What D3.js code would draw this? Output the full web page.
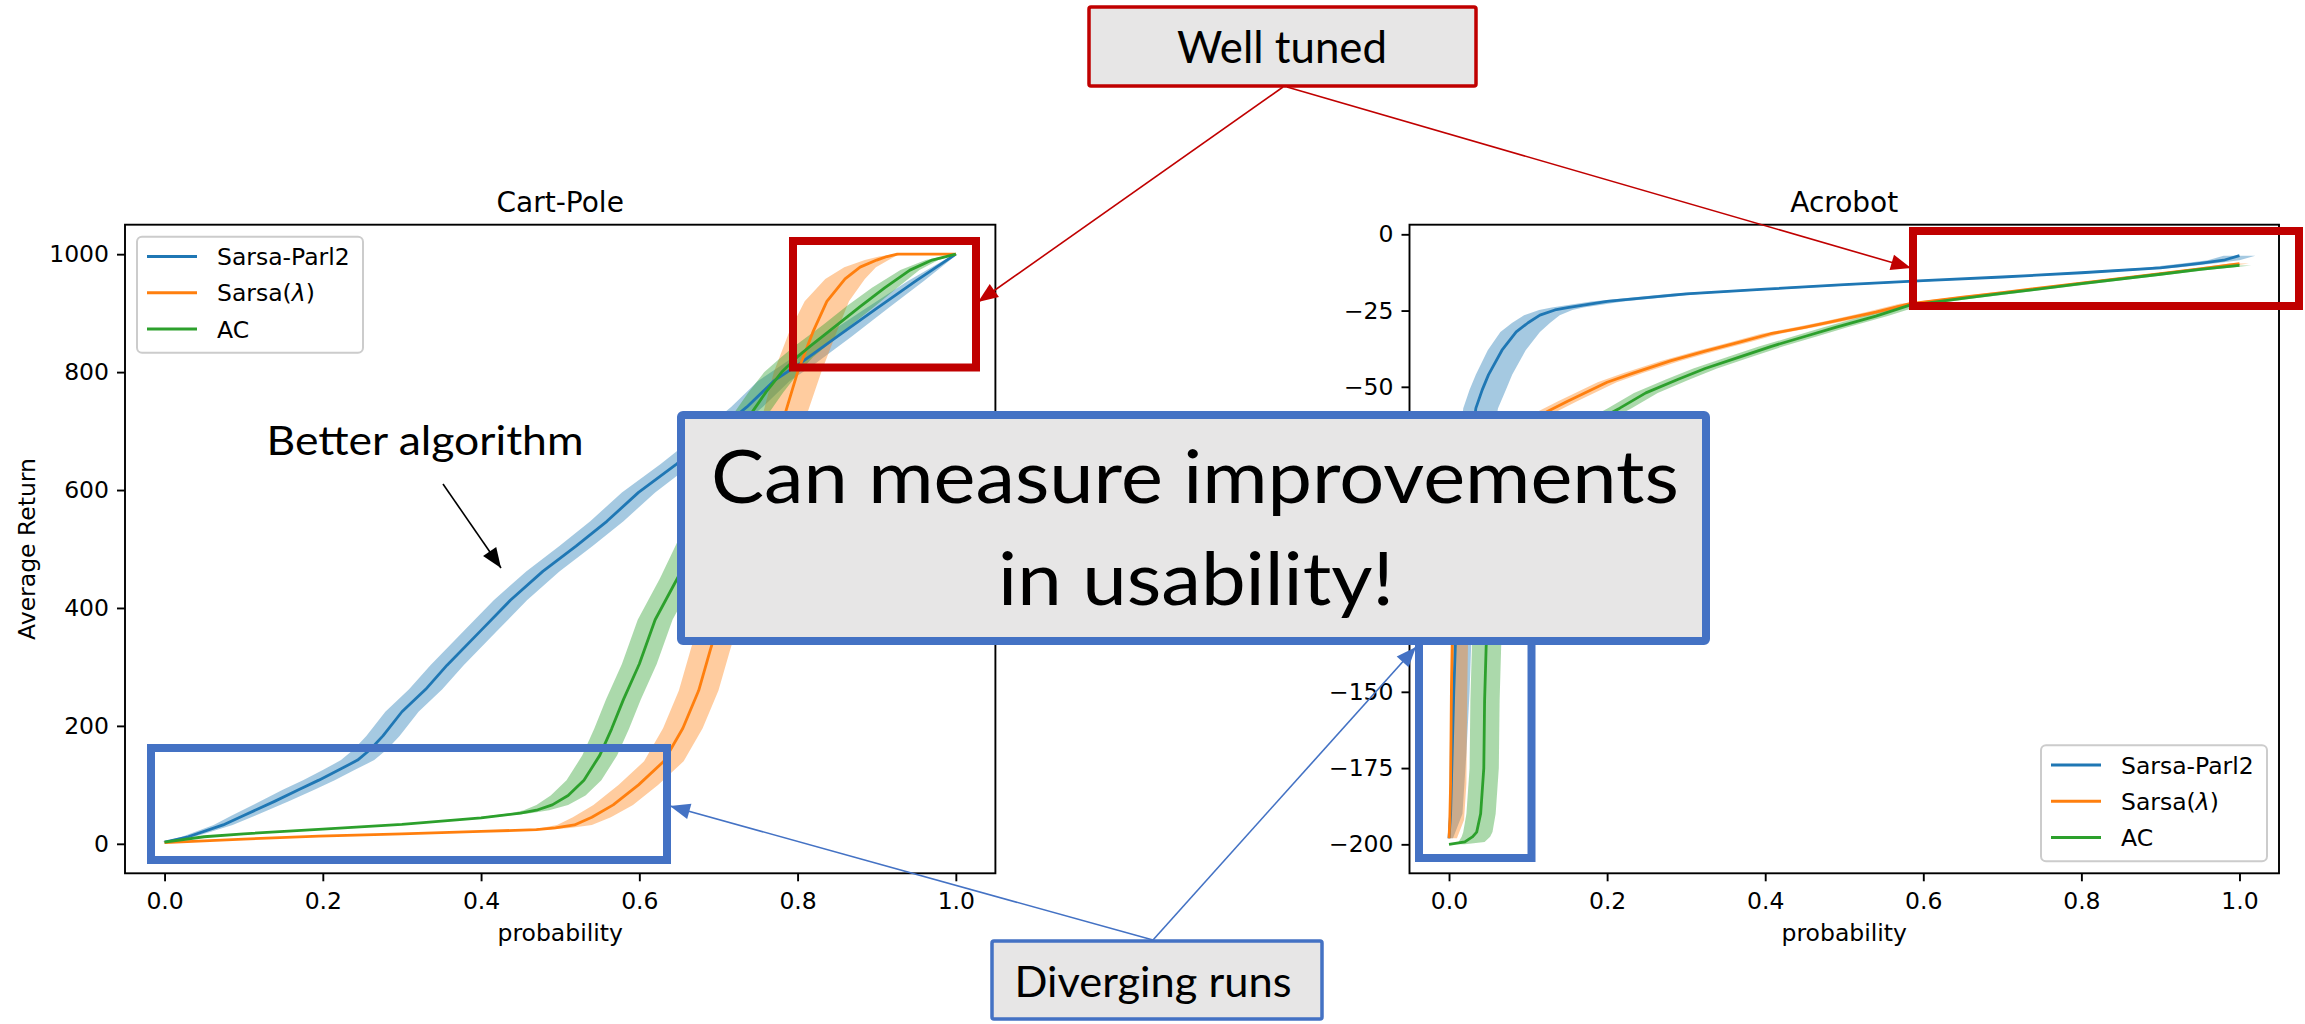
<!DOCTYPE html>
<html><head><meta charset="utf-8">
<script src="https://cdn.jsdelivr.net/npm/d3@7"></script>
<style>html,body{margin:0;padding:0;background:#fff}svg{display:block}</style>
</head><body>
<svg id="c" width="2305" height="1024"></svg>
<script>
// ---------------- DATA ----------------
const seriesNames = ["Sarsa-Parl2", "Sarsa(λ)", "AC"];
const panelTitles = ["Cart-Pole", "Acrobot"];
const xTicks = [0, 0.2, 0.4, 0.6, 0.8, 1.0];
const cartYTicks = [0, 200, 400, 600, 800, 1000];
const acroYTicks = [0, -25, -50, -75, -100, -125, -150, -175, -200];
// labels of -75, -100, -125 sit under the slide's main box and are not visible in the picture
const acroYTickLabels = ["0", "−25", "−50", "", "", "", "−150", "−175", "−200"];

// Cart-Pole: probability, average return, band half-widths (in probability)
const cartP_parl2 = [0,0.03,0.074,0.1,0.139,0.17,0.195,0.22,0.244,0.26,0.276,0.3,0.33,0.357,0.4,0.437,0.478,0.52,0.559,0.599,0.647,0.69,0.736,0.77,0.8,0.85,0.9,0.95,1.0];
const cartV_parl2 = [3,12,32,48,72,92,108,125,142,160,183,224,262,303,362,413,462,505,547,596,644,690,741,785,812,860,908,955,1000];
const cartW_parl2 = [0.003,0.008,0.012,0.015,0.018,0.02,0.02,0.02,0.021,0.021,0.021,0.021,0.021,0.021,0.021,0.021,0.021,0.021,0.021,0.021,0.02,0.02,0.02,0.02,0.02,0.018,0.014,0.01,0.002];

const cartP_lambda = [0,0.05,0.1,0.195,0.3,0.4,0.47,0.494,0.518,0.54,0.567,0.599,0.631,0.655,0.675,0.69,0.72,0.75,0.785,0.8,0.82,0.837,0.86,0.879,0.9,0.913,0.926,1.0];
const cartV_lambda = [2,5,8,13,17,21,24,27,32,45,66,100,140,196,260,330,460,590,733,800,870,920,958,978,990,996,1000,1000];
const cartW_lambda = [0.002,0.003,0.004,0.005,0.006,0.008,0.012,0.018,0.022,0.024,0.025,0.025,0.025,0.025,0.025,0.025,0.025,0.025,0.028,0.03,0.03,0.028,0.025,0.02,0.015,0.01,0.005,0.002];

const cartP_ac = [0,0.05,0.1,0.2,0.3,0.4,0.45,0.47,0.49,0.51,0.53,0.55,0.565,0.58,0.6,0.62,0.648,0.68,0.71,0.743,0.76,0.78,0.8,0.816,0.85,0.879,0.91,0.942,0.97,1.0];
const cartV_ac = [3,12,17,25,33,44,52,57,66,82,108,150,195,245,305,380,450,540,640,733,766,800,826,844,880,911,943,973,990,1000];
const cartW_ac = [0.002,0.003,0.004,0.005,0.006,0.008,0.012,0.016,0.02,0.022,0.022,0.022,0.022,0.022,0.022,0.022,0.022,0.022,0.022,0.022,0.022,0.022,0.02,0.02,0.018,0.018,0.016,0.012,0.008,0.002];

// Acrobot
const acroP_parl2 = [0,0.002,0.004,0.006,0.008,0.01,0.015,0.022,0.034,0.042,0.05,0.067,0.085,0.1,0.115,0.134,0.15,0.2,0.3,0.4,0.5,0.6,0.7,0.8,0.9,0.95,0.98,1.0];
const acroV_parl2 = [-198,-190,-170,-150,-135,-125,-100,-78,-57,-51,-46,-38,-32,-29,-26.5,-24.8,-24,-22,-19.5,-18,-16.5,-15.2,-14,-12.6,-11,-9.5,-8.5,-7];
const acroLo_parl2 = [0.001,0.002,0.003,0.004,0.004,0.005,0.008,0.012,0.016,0.016,0.016,0.018,0.02,0.02,0.02,0.02,0.02,0.02,0.02,0.02,0.02,0.02,0.02,0.02,0.02,0.02,0.02,0.02];
const acroHi_parl2 = [0.005,0.015,0.018,0.02,0.02,0.02,0.022,0.025,0.028,0.03,0.03,0.03,0.03,0.028,0.025,0.022,0.02,0.02,0.02,0.02,0.02,0.02,0.02,0.02,0.02,0.02,0.02,0.02];

const acroP_lambda = [0,0.001,0.002,0.003,0.004,0.01,0.025,0.05,0.08,0.1,0.125,0.15,0.2,0.233,0.28,0.324,0.37,0.407,0.45,0.489,0.54,0.582,0.65,0.7,0.8,0.9,0.95,1.0];
const acroV_lambda = [-198,-192,-180,-150,-134,-110,-90,-78,-68,-63,-58,-54.7,-48.5,-45.5,-41.5,-38.3,-35.2,-32.6,-30.5,-28.4,-25.5,-22.8,-20.6,-19.1,-16,-12.9,-11.3,-9.6];
const acroLo_lambda = [0,0,0.001,0.001,0.001,0.004,0.008,0.01,0.012,0.012,0.012,0.012,0.012,0.012,0.012,0.012,0.012,0.012,0.012,0.012,0.012,0.012,0.012,0.012,0.012,0.012,0.012,0.012];
const acroHi_lambda = [0.01,0.018,0.02,0.02,0.02,0.02,0.018,0.016,0.014,0.013,0.012,0.012,0.012,0.012,0.012,0.012,0.012,0.012,0.012,0.012,0.012,0.012,0.012,0.012,0.012,0.012,0.012,0.012];

const acroP_ac = [0,0.02,0.03,0.035,0.04,0.044,0.045,0.047,0.055,0.07,0.1,0.14,0.18,0.216,0.249,0.29,0.324,0.37,0.407,0.45,0.489,0.54,0.582,0.65,0.7,0.8,0.9,0.95,1.0];
const acroV_ac = [-200,-199.2,-197.5,-196,-190,-175,-153,-135,-110,-95,-80,-68,-62,-57,-52,-47.5,-44,-40,-36.8,-33.5,-30.5,-26.8,-23.3,-21,-19.4,-16.2,-13.1,-11.5,-10.2];
const acroLo_ac = [0,0.008,0.014,0.017,0.018,0.018,0.018,0.018,0.018,0.017,0.016,0.015,0.015,0.015,0.015,0.015,0.015,0.015,0.015,0.015,0.015,0.015,0.015,0.015,0.015,0.015,0.015,0.015,0.015];
const acroHi_ac = [0.02,0.025,0.022,0.02,0.019,0.019,0.019,0.019,0.018,0.017,0.016,0.015,0.015,0.015,0.015,0.015,0.015,0.015,0.015,0.015,0.015,0.015,0.015,0.015,0.015,0.015,0.015,0.015,0.015];

// ---------------- STYLE / LAYOUT ----------------
const colors = ["#1f77b4", "#ff7f0e", "#2ca02c"];
const mplFont = "'DejaVu Sans', sans-serif";
const slideFont = "Lato, 'Open Sans', sans-serif";
const boxFill = "#E7E6E6", blueA = "#4472C4", redA = "#C00000";

function zip(P, V, Lo, Hi) { return P.map((p, i) => ({p, v: V[i], lo: Lo[i], hi: Hi[i]})); }

const panels = [
  {title: panelTitles[0], left: 125, right: 995.4, top: 224.7, bottom: 873.3,
   yDomain: [-50, 1050], yTicks: cartYTicks, yLabels: cartYTicks.map(d3.format("d")), legend: "ul", ylabel: "Average Return",
   series: [zip(cartP_parl2, cartV_parl2, cartW_parl2, cartW_parl2),
            zip(cartP_lambda, cartV_lambda, cartW_lambda, cartW_lambda),
            zip(cartP_ac, cartV_ac, cartW_ac, cartW_ac)]},
  {title: panelTitles[1], left: 1409.5, right: 2279, top: 224.7, bottom: 873.3,
   yDomain: [-209.5, 3.15], yTicks: acroYTicks, yLabels: acroYTickLabels, legend: "lr", ylabel: null,
   series: [zip(acroP_parl2, acroV_parl2, acroLo_parl2, acroHi_parl2),
            zip(acroP_lambda, acroV_lambda, acroLo_lambda, acroHi_lambda),
            zip(acroP_ac, acroV_ac, acroLo_ac, acroHi_ac)]}
];

const svg = d3.select("#c");
svg.append("rect").attr("width", 2305).attr("height", 1024).attr("fill", "#fff");

panels.forEach((pn, pi) => {
  const x = d3.scaleLinear().domain([-0.05, 1.05]).range([pn.left, pn.right]);
  const y = d3.scaleLinear().domain(pn.yDomain).range([pn.bottom, pn.top]);
  const g = svg.append("g");
  const clipId = "clip" + pi;
  svg.append("clipPath").attr("id", clipId).append("rect")
    .attr("x", pn.left).attr("y", pn.top).attr("width", pn.right - pn.left).attr("height", pn.bottom - pn.top);
  const plot = g.append("g").attr("clip-path", `url(#${clipId})`);
  const area = d3.area().x0(d => x(d.p - d.lo)).x1(d => x(d.p + d.hi)).y(d => y(d.v));
  const line = d3.line().x(d => x(d.p)).y(d => y(d.v));
  pn.series.forEach((s, i) => {
    plot.append("path").attr("d", area(s)).attr("fill", colors[i]).attr("fill-opacity", 0.4).attr("stroke", "none");
  });
  pn.series.forEach((s, i) => {
    plot.append("path").attr("d", line(s)).attr("fill", "none").attr("stroke", colors[i])
      .attr("stroke-width", 2.8).attr("stroke-linejoin", "round");
  });
  // axes
  const xa = g.append("g").attr("transform", `translate(0,${pn.bottom})`)
    .call(d3.axisBottom(x).tickValues(xTicks).tickFormat(d3.format(".1f")).tickSize(8).tickPadding(11));
  const ya = g.append("g").attr("transform", `translate(${pn.left},0)`)
    .call(d3.axisLeft(y).tickValues(pn.yTicks).tickFormat((d, i) => pn.yLabels[i]).tickSize(8).tickPadding(8));
  [xa, ya].forEach(a => {
    a.select(".domain").remove();
    a.selectAll("line").attr("stroke", "#000").attr("stroke-width", 1.9);
    a.selectAll("text").attr("font-family", mplFont).attr("font-size", 23.5).attr("fill", "#000");
  });
  ya.selectAll(".tick").filter((d, i) => pn.yLabels[i] === "").select("text").remove();
  g.append("rect").attr("x", pn.left).attr("y", pn.top).attr("width", pn.right - pn.left)
    .attr("height", pn.bottom - pn.top).attr("fill", "none").attr("stroke", "#000").attr("stroke-width", 1.9);
  // title & labels
  const cx = (pn.left + pn.right) / 2;
  g.append("text").attr("x", cx).attr("y", 212).attr("text-anchor", "middle")
    .attr("font-family", mplFont).attr("font-size", 28).text(pn.title);
  g.append("text").attr("x", cx).attr("y", 941).attr("text-anchor", "middle")
    .attr("font-family", mplFont).attr("font-size", 23.5).text("probability");
  if (pn.ylabel) {
    g.append("text").attr("transform", `translate(35,${(pn.top + pn.bottom) / 2}) rotate(-90)`)
      .attr("text-anchor", "middle").attr("font-family", mplFont).attr("font-size", 23.5).text(pn.ylabel);
  }
  // legend
  const lw = 226, lh = 116;
  const lx = pn.legend === "ul" ? pn.left + 12 : pn.right - 12 - lw;
  const ly = pn.legend === "ul" ? pn.top + 12 : pn.bottom - 12 - lh;
  const lg = g.append("g");
  lg.append("rect").attr("x", lx).attr("y", ly).attr("width", lw).attr("height", lh).attr("rx", 5)
    .attr("fill", "#fff").attr("fill-opacity", 0.8).attr("stroke", "#cccccc").attr("stroke-width", 2);
  seriesNames.forEach((nm, i) => {
    const ry = ly + 19.7 + i * 36.3;
    lg.append("line").attr("x1", lx + 10).attr("x2", lx + 60).attr("y1", ry).attr("y2", ry)
      .attr("stroke", colors[i]).attr("stroke-width", 3);
    const t = lg.append("text").attr("x", lx + 80).attr("y", ry + 8.5)
      .attr("font-family", mplFont).attr("font-size", 23.5);
    if (nm.includes("λ")) {
      t.append("tspan").text("Sarsa(");
      t.append("tspan").attr("font-style", "italic").text("λ");
      t.append("tspan").text(")");
    } else t.text(nm);
  });
});

// ---------------- ANNOTATIONS (slide overlay) ----------------
function arrow(x1, y1, x2, y2, color, w, head) {
  svg.append("line").attr("x1", x1).attr("y1", y1).attr("x2", x2).attr("y2", y2)
    .attr("stroke", color).attr("stroke-width", w);
  if (head) {
    const dx = x2 - x1, dy = y2 - y1, L = Math.hypot(dx, dy), ux = dx / L, uy = dy / L;
    const hl = head[0], hw = head[1];
    const bx = x2 - ux * hl, by = y2 - uy * hl;
    svg.append("path").attr("d", `M${x2},${y2}L${bx - uy * hw},${by + ux * hw}L${bx + uy * hw},${by - ux * hw}Z`)
      .attr("fill", color);
  }
}
function box(x, y, w, h, stroke, sw, fill) {
  svg.append("rect").attr("x", x).attr("y", y).attr("width", w).attr("height", h)
    .attr("fill", fill || "none").attr("stroke", stroke).attr("stroke-width", sw).attr("rx", fill ? 2 : 0);
}
function label(x, y, size, len, txt) {
  svg.append("text").attr("x", x).attr("y", y).attr("text-anchor", "middle")
    .attr("font-family", slideFont).attr("font-size", size)
    .attr("textLength", len).attr("lengthAdjust", "spacingAndGlyphs").text(txt);
}

// red highlight boxes
box(793, 241, 183, 126.5, redA, 8);
box(1913, 231, 386, 75, redA, 8);
// "Well tuned"
arrow(1283, 87, 978, 302, redA, 1.6, [20, 8]);
arrow(1287, 87, 1911, 268, redA, 1.6, [20, 8]);
box(1089, 7, 387, 79, redA, 3.5, boxFill);
label(1282, 63, 44, 210, "Well tuned");

// blue highlight boxes
box(151, 748, 516, 112, blueA, 8);
box(1419, 600, 112.5, 258, blueA, 8);
// "Better algorithm"
svg.append("text").attr("x", 425).attr("y", 455).attr("text-anchor", "middle")
  .attr("font-family", slideFont).attr("font-size", 40)
  .attr("textLength", 317).attr("lengthAdjust", "spacingAndGlyphs").text("Better algorithm");
arrow(443, 484, 501, 568, "#000", 1.6, [20, 8]);

// main box
box(681, 415, 1025, 226, blueA, 8, boxFill);
label(1195, 503, 74, 968, "Can measure improvements");
label(1196, 605, 74, 396, "in usability!");

// "Diverging runs"
arrow(1153, 940, 670, 806, blueA, 1.6, [20, 8]);
arrow(1153, 940, 1416, 647, blueA, 1.6, [20, 8]);
box(992, 941, 330, 78, blueA, 3.5, boxFill);
label(1153, 997, 43, 277, "Diverging runs");
</script>
</body></html>
